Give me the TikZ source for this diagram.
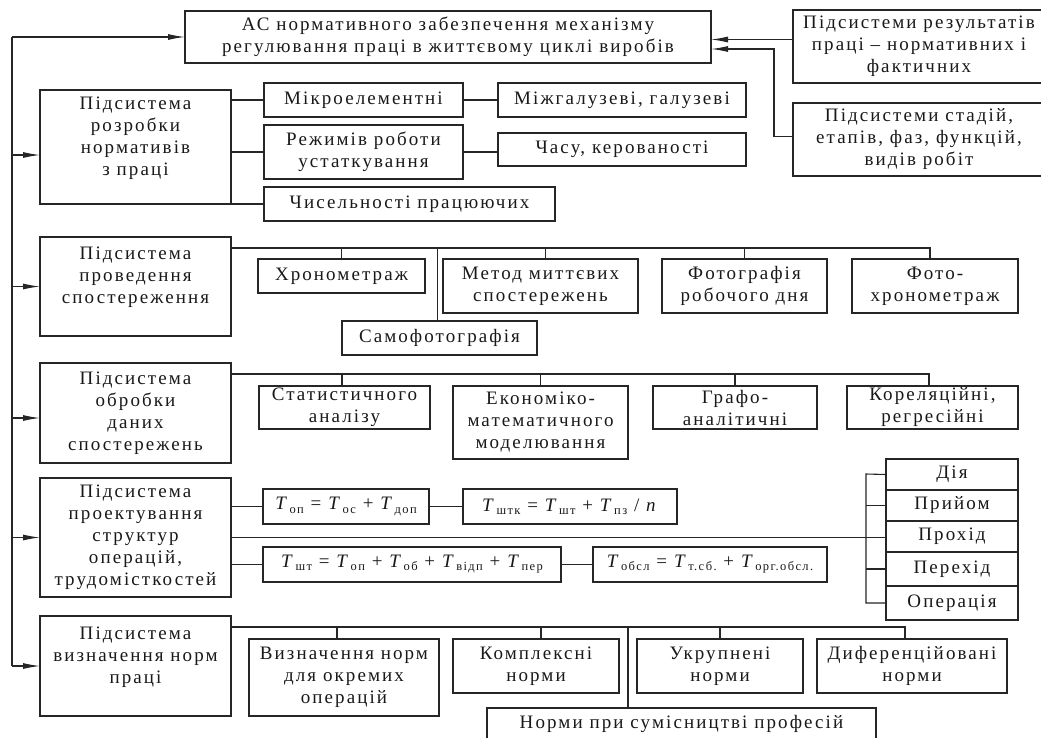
\documentclass[tikz,border=0pt]{standalone}
\usepackage{fontspec}
\setmainfont{Liberation Serif}[LetterSpace=11]
\usetikzlibrary{arrows.meta}
\tikzset{
  box/.style={draw=black!85, line width=1.1pt, inner sep=0pt, outer sep=0pt, align=center,
    font=\fontsize{19}{22}\selectfont, text=black!90},
  ln/.style={draw=black!85, line width=1.1pt},
  arr/.style={ln, -{Latex[length=17pt,width=6pt]}},
}
\newcommand\mkbox[6]{\node[box, minimum width={(#4-#2)*1pt}, minimum height={(#5-#3)*1pt}] (#1) at ({(#2+#4)/2},{(#3+#5)/2}) {#6};}
\newcommand\Tq[1]{\textit{T}\kern0.5pt\raisebox{-0.35ex}{\fontsize{12.5}{12.5}\selectfont #1}}
\begin{document}
\begin{tikzpicture}[x=1pt,y=-1pt]
\useasboundingbox (0,0) rectangle (1041,737);
\clip (0,0) rectangle (1041,737);
\fill[white] (0,0) rectangle (1041,737);
% top and right boxes
\mkbox{top}{185}{11}{711}{63}{АС нормативного забезпечення механізму\\регулювання праці в життєвому циклі виробів}
\mkbox{r1}{793}{10}{1045}{83}{Підсистеми результатів\\праці – нормативних і\\фактичних}
\mkbox{r2}{793}{103}{1045}{176}{Підсистеми стадій,\\етапів, фаз, функцій,\\видів робіт}
% subsystems
\mkbox{s1}{40}{90}{231}{204}{Підсистема\\розробки\\нормативів\\з праці\\\mbox{}}
\mkbox{s2}{40}{237}{231}{336}{Підсистема\\проведення\\спостереження\\\mbox{}}
\mkbox{s3}{40}{363}{231}{463}{Підсистема\\обробки\\даних\\спостережень}
\mkbox{s4}{40}{478}{231}{597}{Підсистема\\проектування\\структур\\операцій,\\трудомісткостей}
\mkbox{s5}{40}{616}{231}{716}{Підсистема\\визначення норм\\праці\\\mbox{}}
% row 1
\mkbox{m1}{264}{83}{463}{117}{Мікроелементні}
\mkbox{m2}{498}{83}{746}{117}{Міжгалузеві, галузеві}
\mkbox{m3}{264}{125}{463}{179}{Режимів роботи\\устаткування}
\mkbox{m4}{498}{133}{746}{166}{Часу, керованості}
\mkbox{m5}{264}{187}{555}{221}{Чисельності працюючих}
% row 2
\mkbox{o1}{258}{259}{425}{293}{Хронометраж}
\mkbox{o2}{443}{259}{638}{313}{Метод миттєвих\\спостережень}
\mkbox{o3}{662}{259}{827}{313}{Фотографія\\робочого дня}
\mkbox{o4}{852}{259}{1018}{313}{Фото-\\хронометраж}
\mkbox{o5}{342}{321}{537}{355}{Самофотографія}
% row 3
\mkbox{p1}{259}{386}{430}{429}{Статистичного\\аналізу}
\mkbox{p2}{453}{386}{628}{459}{Економіко-\\математичного\\моделювання}
\mkbox{p3}{653}{386}{817}{429}{Графо-\\аналітичні}
\mkbox{p4}{847}{386}{1018}{429}{Кореляційні,\\регресійні}
% row 4
\mkbox{f1}{263}{489}{429}{524}{\Tq{оп} = \Tq{ос} + \Tq{доп}}
\mkbox{f2}{463}{489}{677}{524}{\Tq{штк} = \Tq{шт} + \Tq{пз} / \textit{n}}
\mkbox{f3}{263}{547}{561}{582}{\Tq{шт} = \Tq{оп} + \Tq{об} + \Tq{відп} + \Tq{пер}}
\mkbox{f4}{593}{547}{827}{582}{\Tq{обсл} = \Tq{т.сб.} + \Tq{орг.обсл.}}
\mkbox{d1}{886}{459}{1018}{490}{Дія}
\mkbox{d2}{886}{490}{1018}{521}{Прийом}
\mkbox{d3}{886}{521}{1018}{552}{Прохід}
\mkbox{d4}{886}{552}{1018}{586}{Перехід}
\mkbox{d5}{886}{586}{1018}{620}{Операція}
% row 5
\mkbox{n1}{249}{639}{439}{716}{Визначення норм\\для окремих\\операцій}
\mkbox{n2}{453}{639}{619}{693}{Комплексні\\норми}
\mkbox{n3}{637}{639}{803}{693}{Укрупнені\\норми}
\mkbox{n4}{817}{639}{1007}{693}{Диференційовані\\норми}
\mkbox{n5}{487}{708}{876}{739}{Норми при сумісництві професій}
% left trunk
\coordinate (tl) at (12,37);
\coordinate (bl) at (12,666);
\draw[ln] (tl) -- (bl);
\draw[arr] (tl) -- (top.west);
\draw[arr] ([yshift=-8pt]s1.west -| tl) -- ([yshift=-8pt]s1.west);
\draw[arr] (s2.west -| tl) -- (s2.west);
\draw[arr] ([yshift=-5pt]s3.west -| tl) -- ([yshift=-5pt]s3.west);
\draw[arr] (s4.west -| tl) -- (s4.west);
\draw[arr] (s5.west -| tl) -- (s5.west);
% right inputs
\draw[arr] ([yshift=7pt]r1.west) -- ([yshift=7pt]r1.west -| top.east);
\coordinate (k) at (774,49);
\draw[arr] ([yshift=3pt]r2.west) -| (k) -- (k -| top.east);
% row 1 connectors
\draw[ln] (s1.east |- m1.west) -- (m1.west);
\draw[ln] (s1.east |- m3.west) -- (m3.west);
\draw[ln] (s1.south east) -- (m5.west);
\draw[ln] (m1.east) -- (m2.west);
\draw[ln] (m3.east) -- (m3.east -| m4.west);
% row 2 bus
\coordinate (b2) at (930,248);
\draw[ln] (s2.east |- b2) -- (b2) -- ([xshift=-5pt]o4.north);
\draw[ln] (o1.north |- b2) -- (o1.north);
\draw[ln] ([xshift=5pt]o2.north |- b2) -- ([xshift=5pt]o2.north);
\draw[ln] (o3.north |- b2) -- (o3.north);
\draw[ln] ([xshift=-2pt]o5.north |- b2) -- ([xshift=-2pt]o5.north);
% row 3 bus
\coordinate (b3) at (929,374);
\draw[ln] (s3.east |- b3) -- (b3) -- ([xshift=-3.5pt]p4.north);
\draw[ln] ([xshift=-2.5pt]p1.north |- b3) -- ([xshift=-2.5pt]p1.north);
\draw[ln] (p2.north |- b3) -- (p2.north);
\draw[ln] (p3.north |- b3) -- (p3.north);
% row 4
\draw[ln] (s4.east |- f1.west) -- (f1.west);
\draw[ln] (f1.east) -- (f2.west);
\draw[ln] (s4.east |- f3.west) -- (f3.west);
\draw[ln] (f3.east) -- (f4.west);
\draw[ln] (s4.east) -- (s4.east -| d3.west);
\coordinate (br) at (866,474);
\draw[ln] (d1.west) -- (br) |- (d5.west);
\draw[ln] (d2.west) -- (d2.west -| br);
\draw[ln] (d4.west) -- (d4.west -| br);
% row 5 bus
\coordinate (b5) at (905,627);
\draw[ln] (s5.east |- b5) -- (b5) -- ([xshift=-7pt]n4.north);
\draw[ln] ([xshift=-7pt]n1.north |- b5) -- ([xshift=-7pt]n1.north);
\draw[ln] ([xshift=5pt]n2.north |- b5) -- ([xshift=5pt]n2.north);
\draw[ln] (n3.north |- b5) -- (n3.north);
\draw[ln] ([xshift=-53.5pt]n5.north |- b5) -- ([xshift=-53.5pt]n5.north);
\end{tikzpicture}
\end{document}
